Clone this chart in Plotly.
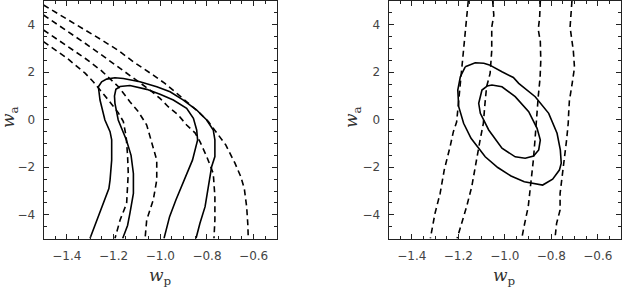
import plotly.graph_objects as go

# ---------------- data ----------------
# Left panel: solid contours (open at bottom edge)
L_S1_x = [-1.301, -1.280, -1.258, -1.237, -1.220, -1.215, -1.208, -1.208, -1.215, -1.237, -1.258, -1.265, -1.251, -1.230, -1.194, -1.158, -1.087, -1.015, -0.958, -0.901, -0.844, -0.801, -0.773, -0.766, -0.766, -0.780, -0.785, -0.794, -0.808, -0.830, -0.847]
L_S1_y = [-5.0, -4.45, -3.94, -3.38, -2.90, -2.54, -1.70, -0.85, -0.50, -0.01, 0.83, 1.39, 1.60, 1.71, 1.77, 1.74, 1.60, 1.39, 1.18, 0.83, 0.41, -0.01, -0.43, -0.85, -1.55, -1.98, -2.30, -2.68, -3.66, -4.36, -5.0]

L_S2_x = [-1.161, -1.140, -1.130, -1.115, -1.115, -1.125, -1.145, -1.165, -1.180, -1.194, -1.196, -1.190, -1.172, -1.130, -1.058, -1.001, -0.944, -0.887, -0.858, -0.844, -0.840, -0.862, -0.890, -0.933, -0.960, -0.984]
L_S2_y = [-5.0, -4.45, -3.94, -3.10, -2.26, -1.50, -0.85, -0.40, -0.01, 0.69, 1.00, 1.28, 1.40, 1.44, 1.28, 1.07, 0.83, 0.48, 0.06, -0.43, -0.85, -1.70, -2.35, -3.38, -4.08, -5.0]

# Left panel: dashed contours
L_D1_x = [-1.5, -1.40, -1.30, -1.251, -1.180, -1.115, -1.030, -0.980, -0.937, -0.887, -0.837, -0.794, -0.751, -0.720, -0.680, -0.655, -0.640, -0.630, -0.625, -0.623]
L_D1_y = [4.83, 4.25, 3.65, 3.36, 2.92, 2.44, 1.88, 1.53, 1.18, 0.76, 0.34, -0.08, -0.65, -1.05, -1.83, -2.40, -2.90, -3.66, -4.40, -5.0]

L_D2_x = [-1.5, -1.40, -1.322, -1.25, -1.15, -1.044, -1.001, -0.966, -0.923, -0.887, -0.851, -0.830, -0.801, -0.773, -0.766, -0.766, -0.770]
L_D2_y = [4.41, 3.75, 3.22, 2.72, 2.00, 1.25, 0.90, 0.55, 0.20, -0.22, -0.55, -0.92, -1.55, -2.26, -3.24, -4.22, -5.0]

L_D3_x = [-1.5, -1.40, -1.322, -1.25, -1.18, -1.130, -1.094, -1.058, -1.044, -1.030, -1.015, -1.015, -1.030, -1.058, -1.065]
L_D3_y = [3.78, 3.10, 2.59, 2.05, 1.40, 0.76, 0.34, -0.22, -0.71, -1.20, -1.70, -2.54, -3.38, -4.22, -5.0]

L_D4_x = [-1.5, -1.40, -1.322, -1.287, -1.222, -1.180, -1.158, -1.146, -1.140, -1.137, -1.144, -1.172, -1.194]
L_D4_y = [3.29, 2.60, 1.96, 1.60, 0.83, 0.30, -0.08, -0.71, -1.50, -2.26, -3.52, -4.22, -5.0]

# Right panel: solid contours (closed)
R_S1_x = [-1.170, -1.127, -1.090, -1.066, -1.012, -0.963, -0.940, -0.869, -0.811, -0.775, -0.761, -0.757, -0.765, -0.794, -0.837, -0.877, -0.916, -0.973, -1.030, -1.084, -1.106, -1.145, -1.177, -1.198, -1.202, -1.191, -1.170]
R_S1_y = [2.23, 2.40, 2.38, 2.31, 2.02, 1.78, 1.53, 0.97, 0.27, -0.57, -1.27, -1.83, -2.12, -2.50, -2.75, -2.68, -2.61, -2.37, -2.01, -1.56, -1.27, -0.78, -0.15, 0.55, 1.25, 1.81, 2.23]

R_S2_x = [-1.076, -1.055, -1.012, -0.955, -0.897, -0.861, -0.847, -0.854, -0.876, -0.912, -0.955, -1.012, -1.069, -1.105, -1.112, -1.098, -1.076]
R_S2_y = [1.42, 1.46, 1.39, 0.97, 0.34, -0.36, -0.85, -1.27, -1.53, -1.62, -1.56, -1.20, -0.43, 0.27, 0.69, 1.25, 1.42]

# Right panel: dashed contours
R_D1_x = [-1.157, -1.162, -1.166, -1.176, -1.185, -1.195, -1.207, -1.221, -1.235, -1.260, -1.278, -1.300, -1.320]
R_D1_y = [5.0, 4.5, 3.9, 2.8, 2.0, 1.1, -0.1, -0.5, -1.13, -2.1, -3.10, -3.94, -5.0]

R_D2_x = [-1.052, -1.047, -1.056, -1.056, -1.063, -1.078, -1.085, -1.092, -1.106, -1.121, -1.142, -1.164, -1.190, -1.205]
R_D2_y = [5.0, 4.4, 3.9, 2.9, 1.95, 1.39, 0.69, -0.15, -0.85, -1.70, -2.82, -3.66, -4.5, -5.0]

R_D3_x = [-0.847, -0.850, -0.856, -0.847, -0.845, -0.848, -0.856, -0.863, -0.870, -0.877, -0.891, -0.899, -0.915, -0.927]
R_D3_y = [5.0, 4.3, 3.8, 3.3, 2.5, 1.77, 0.97, -0.15, -0.85, -1.70, -2.82, -3.66, -4.4, -5.0]

R_D4_x = [-0.711, -0.715, -0.719, -0.705, -0.700, -0.712, -0.722, -0.725, -0.727, -0.734, -0.748, -0.762, -0.762, -0.777, -0.784]
R_D4_y = [5.0, 4.3, 3.9, 2.9, 2.2, 1.4, 0.8, 0.3, -0.15, -0.85, -1.98, -3.10, -3.80, -4.36, -5.0]

x_tickvals = [-1.4, -1.2, -1.0, -0.8, -0.6]
y_tickvals = [-4, -2, 0, 2, 4]
x_range = [-1.5, -0.5]
y_range = [-5, 5]

# ---------------- figure ----------------
fig = go.Figure()

solid = dict(color="black", width=1.6)
dashed = dict(color="black", width=1.6, dash="6px,4px")

def add(xs, ys, line, panel):
    xa, ya = ("x", "y") if panel == 1 else ("x2", "y2")
    fig.add_trace(go.Scatter(x=xs, y=ys, mode="lines", line=line,
                             xaxis=xa, yaxis=ya, showlegend=False, hoverinfo="skip"))

for xs, ys in [(L_S1_x, L_S1_y), (L_S2_x, L_S2_y)]:
    add(xs, ys, solid, 1)
for xs, ys in [(L_D1_x, L_D1_y), (L_D2_x, L_D2_y), (L_D3_x, L_D3_y), (L_D4_x, L_D4_y)]:
    add(xs, ys, dashed, 1)
for xs, ys in [(R_S1_x, R_S1_y), (R_S2_x, R_S2_y)]:
    add(xs, ys, solid, 2)
for xs, ys in [(R_D1_x, R_D1_y), (R_D2_x, R_D2_y), (R_D3_x, R_D3_y), (R_D4_x, R_D4_y)]:
    add(xs, ys, dashed, 2)

tickfont = dict(family="DejaVu Sans", size=12, color="#444")
common_x = dict(range=x_range, tickvals=x_tickvals, tickformat=".1f", ticks="inside",
                ticklen=5, tickwidth=1, tickcolor="#222", showline=True, linecolor="#222",
                linewidth=1, mirror="allticks", showgrid=False, zeroline=False,
                tickfont=tickfont, ticklabelstandoff=6,
                minor=dict(dtick=0.05, tick0=0, ticks="inside", ticklen=3, tickcolor="#222", showgrid=False))
common_y = dict(range=y_range, tickvals=y_tickvals, ticks="inside",
                ticklen=5, tickwidth=1, tickcolor="#222", showline=True, linecolor="#222",
                linewidth=1, mirror="allticks", showgrid=False, zeroline=False,
                tickfont=tickfont, ticklabelstandoff=5,
                minor=dict(dtick=0.5, tick0=0, ticks="inside", ticklen=3, tickcolor="#222", showgrid=False))

yd = [49.5 / 288, 287 / 288]
fig.update_layout(
    width=624, height=288,
    margin=dict(l=0, r=0, t=0, b=0),
    paper_bgcolor="white", plot_bgcolor="white",
    xaxis=dict(domain=[43.5 / 624, 277 / 624], anchor="y", **common_x),
    yaxis=dict(domain=yd, anchor="x", **common_y),
    xaxis2=dict(domain=[388.5 / 624, 621 / 624], anchor="y2", **common_x),
    yaxis2=dict(domain=yd, anchor="x2", **common_y),
)

title_font = dict(family="DejaVu Serif", size=17, color="#333")
annots = []
for xc in [160.25 / 624, 504.75 / 624]:
    annots.append(dict(x=xc, y=(288 - 276) / 288, xref="paper", yref="paper", xanchor="center", yanchor="middle",
                       text="<i>w</i><sub>p</sub>", showarrow=False, font=title_font))
for xc in [9 / 624, 352 / 624]:
    annots.append(dict(x=xc, y=(288 - 117) / 288, xref="paper", yref="paper", xanchor="center", yanchor="middle",
                       text="<i>w</i><sub>a</sub>", textangle=-90, showarrow=False, font=title_font))
fig.update_layout(annotations=annots)

fig.write_html("out.html", config={"displayModeBar": False},
               post_script="document.body.style.margin='0';document.body.style.overflow='hidden';")
